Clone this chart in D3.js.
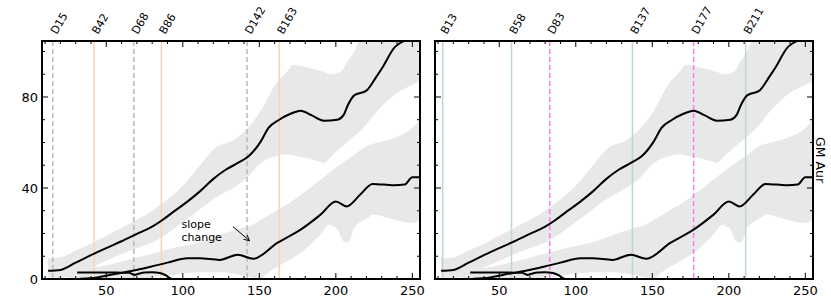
<!DOCTYPE html>
<html>
<head>
<meta charset="utf-8">
<script src="https://cdn.jsdelivr.net/npm/d3@7"></script>
<style>
  body { margin: 0; background: #fff; }
  text { font-family: "DejaVu Sans", sans-serif; }
</style>
</head>
<body>
<div id="chart"></div>
<script>
// upper trend line (same in both panels)
var upperX = [12, 20, 30, 40, 50, 60, 70, 80, 86, 94, 103, 111, 120, 128, 136, 143, 151, 156, 163, 170, 177, 184, 192, 201, 205, 208, 212, 220, 226, 231, 238, 242, 247, 255];
var upperY = [3.6, 4, 7.2, 10.5, 13.6, 16.6, 19.8, 23, 25.6, 29.6, 34, 38.4, 44, 48, 51, 53.9, 60.5, 66.4, 70, 72.5, 74, 72, 69.6, 70, 72, 76.6, 80.7, 82.8, 88.4, 93.5, 101.5, 103.7, 105.5, 110];
var upperHiX = [12, 20, 30, 40, 50, 60, 70, 80, 90, 100, 110, 122, 133, 142, 151, 161, 172, 181, 190, 197, 203, 208, 212, 216, 255];
var upperHi  = [9, 9.5, 12.5, 15.5, 19, 22.5, 26, 30, 35, 41, 49, 58, 61, 66, 74, 86, 94, 93, 91.5, 90, 91, 96, 100, 106, 120];
var upperLoX = [12, 20, 30, 40, 50, 60, 70, 80, 90, 100, 110, 122, 133, 142, 151, 161, 168, 181, 192, 203, 216, 227, 237, 250, 255];
var upperLo  = [0.5, 0.5, 2, 5, 8, 11, 13.5, 16, 20, 25, 30, 36, 40, 44.5, 51, 54, 54.8, 53.2, 51, 57.6, 65, 73.7, 80.3, 85.4, 87];

// lower trend line
var lowerX = [33, 44, 53, 68, 79, 90, 103, 111, 124, 136, 146, 162, 177, 190, 200, 207, 216, 224, 238, 245, 250, 255];
var lowerY = [0.1, 0.7, 1.9, 3.7, 5.4, 7.2, 9.1, 9.1, 8.4, 10.7, 8.9, 16, 21.7, 28.3, 34.1, 31.9, 37.1, 41.8, 41.2, 41.5, 44.7, 44.7];
var lowerHiX = [25, 33, 50, 68, 90, 110, 125, 146, 168, 183, 198, 212, 222, 238, 250, 255];
var lowerHi  = [3, 4, 6, 9, 13, 16, 19.5, 24, 32.7, 40, 48, 54.6, 59, 62, 66.4, 70];
var lowerLoX = [25, 33, 68, 90, 110, 125, 140, 150, 157, 168, 181, 190, 196, 201, 205, 208, 212, 224, 238, 250, 255];
var lowerLo  = [0, 0, 0, 1.5, 3, 3, 1.5, 0, 3.4, 7.8, 13.6, 19.5, 23.9, 22, 16.6, 16, 22.4, 28.3, 26, 24.6, 26];

// short curve near zero
var shortX = [31, 40, 50, 60, 65, 67, 68.5, 71, 75, 80, 85, 89, 92, 94, 100];
var shortY = [2.9, 2.9, 2.85, 2.8, 2.7, 2.2, 1.8, 2.3, 2.9, 3.0, 2.6, 1.6, 0.3, 0, 0];

// epoch markers
var leftMarks = ["D15", "B42", "D68", "B86", "D142", "B163"];
var leftMarkX = [15, 42, 68, 86, 142, 163];
var rightMarks = ["B13", "B58", "D83", "B137", "D177", "B211"];
var rightMarkX = [13, 58, 83, 137, 177, 211];

var xTickLabels = [50, 100, 150, 200, 250];
var yTickLabels = [0, 40, 80];

var W = 831, H = 299;
var plotTop = 41, plotBottom = 279;
var svg = d3.select("#chart").append("svg")
    .attr("width", W).attr("height", H);

var y = d3.scaleLinear().domain([0, 104.6]).range([plotBottom, plotTop]);

function pts(xs, ys) { return xs.map(function(v, i) { return [v, ys[i]]; }); }

function interp(xs, ys, v) {
  // linear lookup between read-off points, only for building the band polygon
  if (v <= xs[0]) return ys[0];
  for (var i = 1; i < xs.length; i++) {
    if (v <= xs[i]) {
      var t = (v - xs[i-1]) / (xs[i] - xs[i-1]);
      return ys[i-1] + t * (ys[i] - ys[i-1]);
    }
  }
  return ys[ys.length - 1];
}

function drawPanel(left, right, marks, markX, isLeft, id) {
  var x = d3.scaleLinear().domain([8, 255]).range([left, right]);
  var g = svg.append("g");

  g.append("clipPath").attr("id", "clip" + id)
    .append("rect").attr("x", left).attr("y", plotTop)
    .attr("width", right - left).attr("height", plotBottom - plotTop);
  var plot = g.append("g").attr("clip-path", "url(#clip" + id + ")");

  // bands: area between lo and hi edges
  function band(hiX, hi, loX, lo) {
    var xs = Array.from(new Set(hiX.concat(loX))).sort(d3.ascending);
    var area = d3.area()
      .curve(d3.curveMonotoneX)
      .x(function(d) { return x(d); })
      .y0(function(d) { return y(interp(loX, lo, d)); })
      .y1(function(d) { return y(interp(hiX, hi, d)); });
    plot.append("path").datum(xs)
      .attr("d", area)
      .attr("fill", "#e8e8e8");
  }
  band(upperHiX, upperHi, upperLoX, upperLo);
  band(lowerHiX, lowerHi, lowerLoX, lowerLo);

  // marker lines
  markX.forEach(function(m, i) {
    var isD = marks[i][0] === "D";
    var col;
    if (isLeft) col = isD ? "#bbbbbb" : "#fdd3ad";
    else col = isD ? "#ee82ee" : "#bcd6d8";
    plot.append("line")
      .attr("x1", x(m)).attr("x2", x(m))
      .attr("y1", plotTop).attr("y2", plotBottom)
      .attr("stroke", col)
      .attr("stroke-width", 1.5)
      .attr("stroke-dasharray", isD ? "5,3" : null);
    g.append("text")
      .attr("transform", "translate(" + (x(m) + 4) + "," + (plotTop - 6) + ") rotate(-60)")
      .attr("font-size", 11)
      .text(marks[i]);
  });

  var line = d3.line()
    .curve(d3.curveMonotoneX)
    .x(function(d) { return x(d[0]); })
    .y(function(d) { return y(d[1]); });

  [pts(upperX, upperY), pts(lowerX, lowerY), pts(shortX, shortY)].forEach(function(s) {
    plot.append("path").datum(s)
      .attr("d", line)
      .attr("fill", "none")
      .attr("stroke", "#000")
      .attr("stroke-width", 2);
  });

  // ticks (inward, all four sides)
  var tk = g.append("g").attr("stroke", "#000").attr("stroke-width", 1);
  d3.range(10, 251, 10).forEach(function(t) {
    var len = t % 50 === 0 ? 6 : 3;
    tk.append("line").attr("x1", x(t)).attr("x2", x(t))
      .attr("y1", plotBottom).attr("y2", plotBottom - len);
    tk.append("line").attr("x1", x(t)).attr("x2", x(t))
      .attr("y1", plotTop).attr("y2", plotTop + len);
  });
  d3.range(0, 101, 10).forEach(function(t) {
    var len = t % 40 === 0 ? 6 : 3;
    tk.append("line").attr("x1", left).attr("x2", left + len)
      .attr("y1", y(t)).attr("y2", y(t));
    tk.append("line").attr("x1", right).attr("x2", right - len)
      .attr("y1", y(t)).attr("y2", y(t));
  });

  // frame
  g.append("rect")
    .attr("x", left).attr("y", plotTop)
    .attr("width", right - left).attr("height", plotBottom - plotTop)
    .attr("fill", "none").attr("stroke", "#000").attr("stroke-width", 2);

  xTickLabels.forEach(function(t) {
    g.append("text")
      .attr("x", x(t)).attr("y", plotBottom + 16)
      .attr("text-anchor", "middle")
      .attr("font-size", 13)
      .text(t);
  });

  if (isLeft) {
    yTickLabels.forEach(function(t) {
      g.append("text")
        .attr("x", left - 4).attr("y", y(t) + 5)
        .attr("text-anchor", "end")
        .attr("font-size", 13)
        .text(t);
    });

    // annotation
    var ann = g.append("text").attr("font-size", 11);
    ann.append("tspan").attr("x", x(137) - 58).attr("y", y(22.5)).text("slope");
    ann.append("tspan").attr("x", x(137) - 58).attr("y", y(16.8)).text("change");

    svg.append("defs").append("marker")
      .attr("id", "arr").attr("viewBox", "0 0 10 10")
      .attr("refX", 9).attr("refY", 5)
      .attr("markerWidth", 7).attr("markerHeight", 7)
      .attr("orient", "auto")
      .append("path").attr("d", "M1,1 L9,5 L1,9")
      .attr("fill", "none").attr("stroke", "#000").attr("stroke-width", 1.3);
    g.append("line")
      .attr("x1", x(132.8)).attr("y1", y(23))
      .attr("x2", x(143.6)).attr("y2", y(16.8))
      .attr("stroke", "#000").attr("stroke-width", 1)
      .attr("marker-end", "url(#arr)");
  }
}

drawPanel(42, 420, leftMarks, leftMarkX, true, "L");
drawPanel(435, 813, rightMarks, rightMarkX, false, "R");

svg.append("text")
  .attr("transform", "translate(816,160) rotate(90)")
  .attr("text-anchor", "middle")
  .attr("font-size", 12.5)
  .text("GM Aur");
</script>
</body>
</html>
